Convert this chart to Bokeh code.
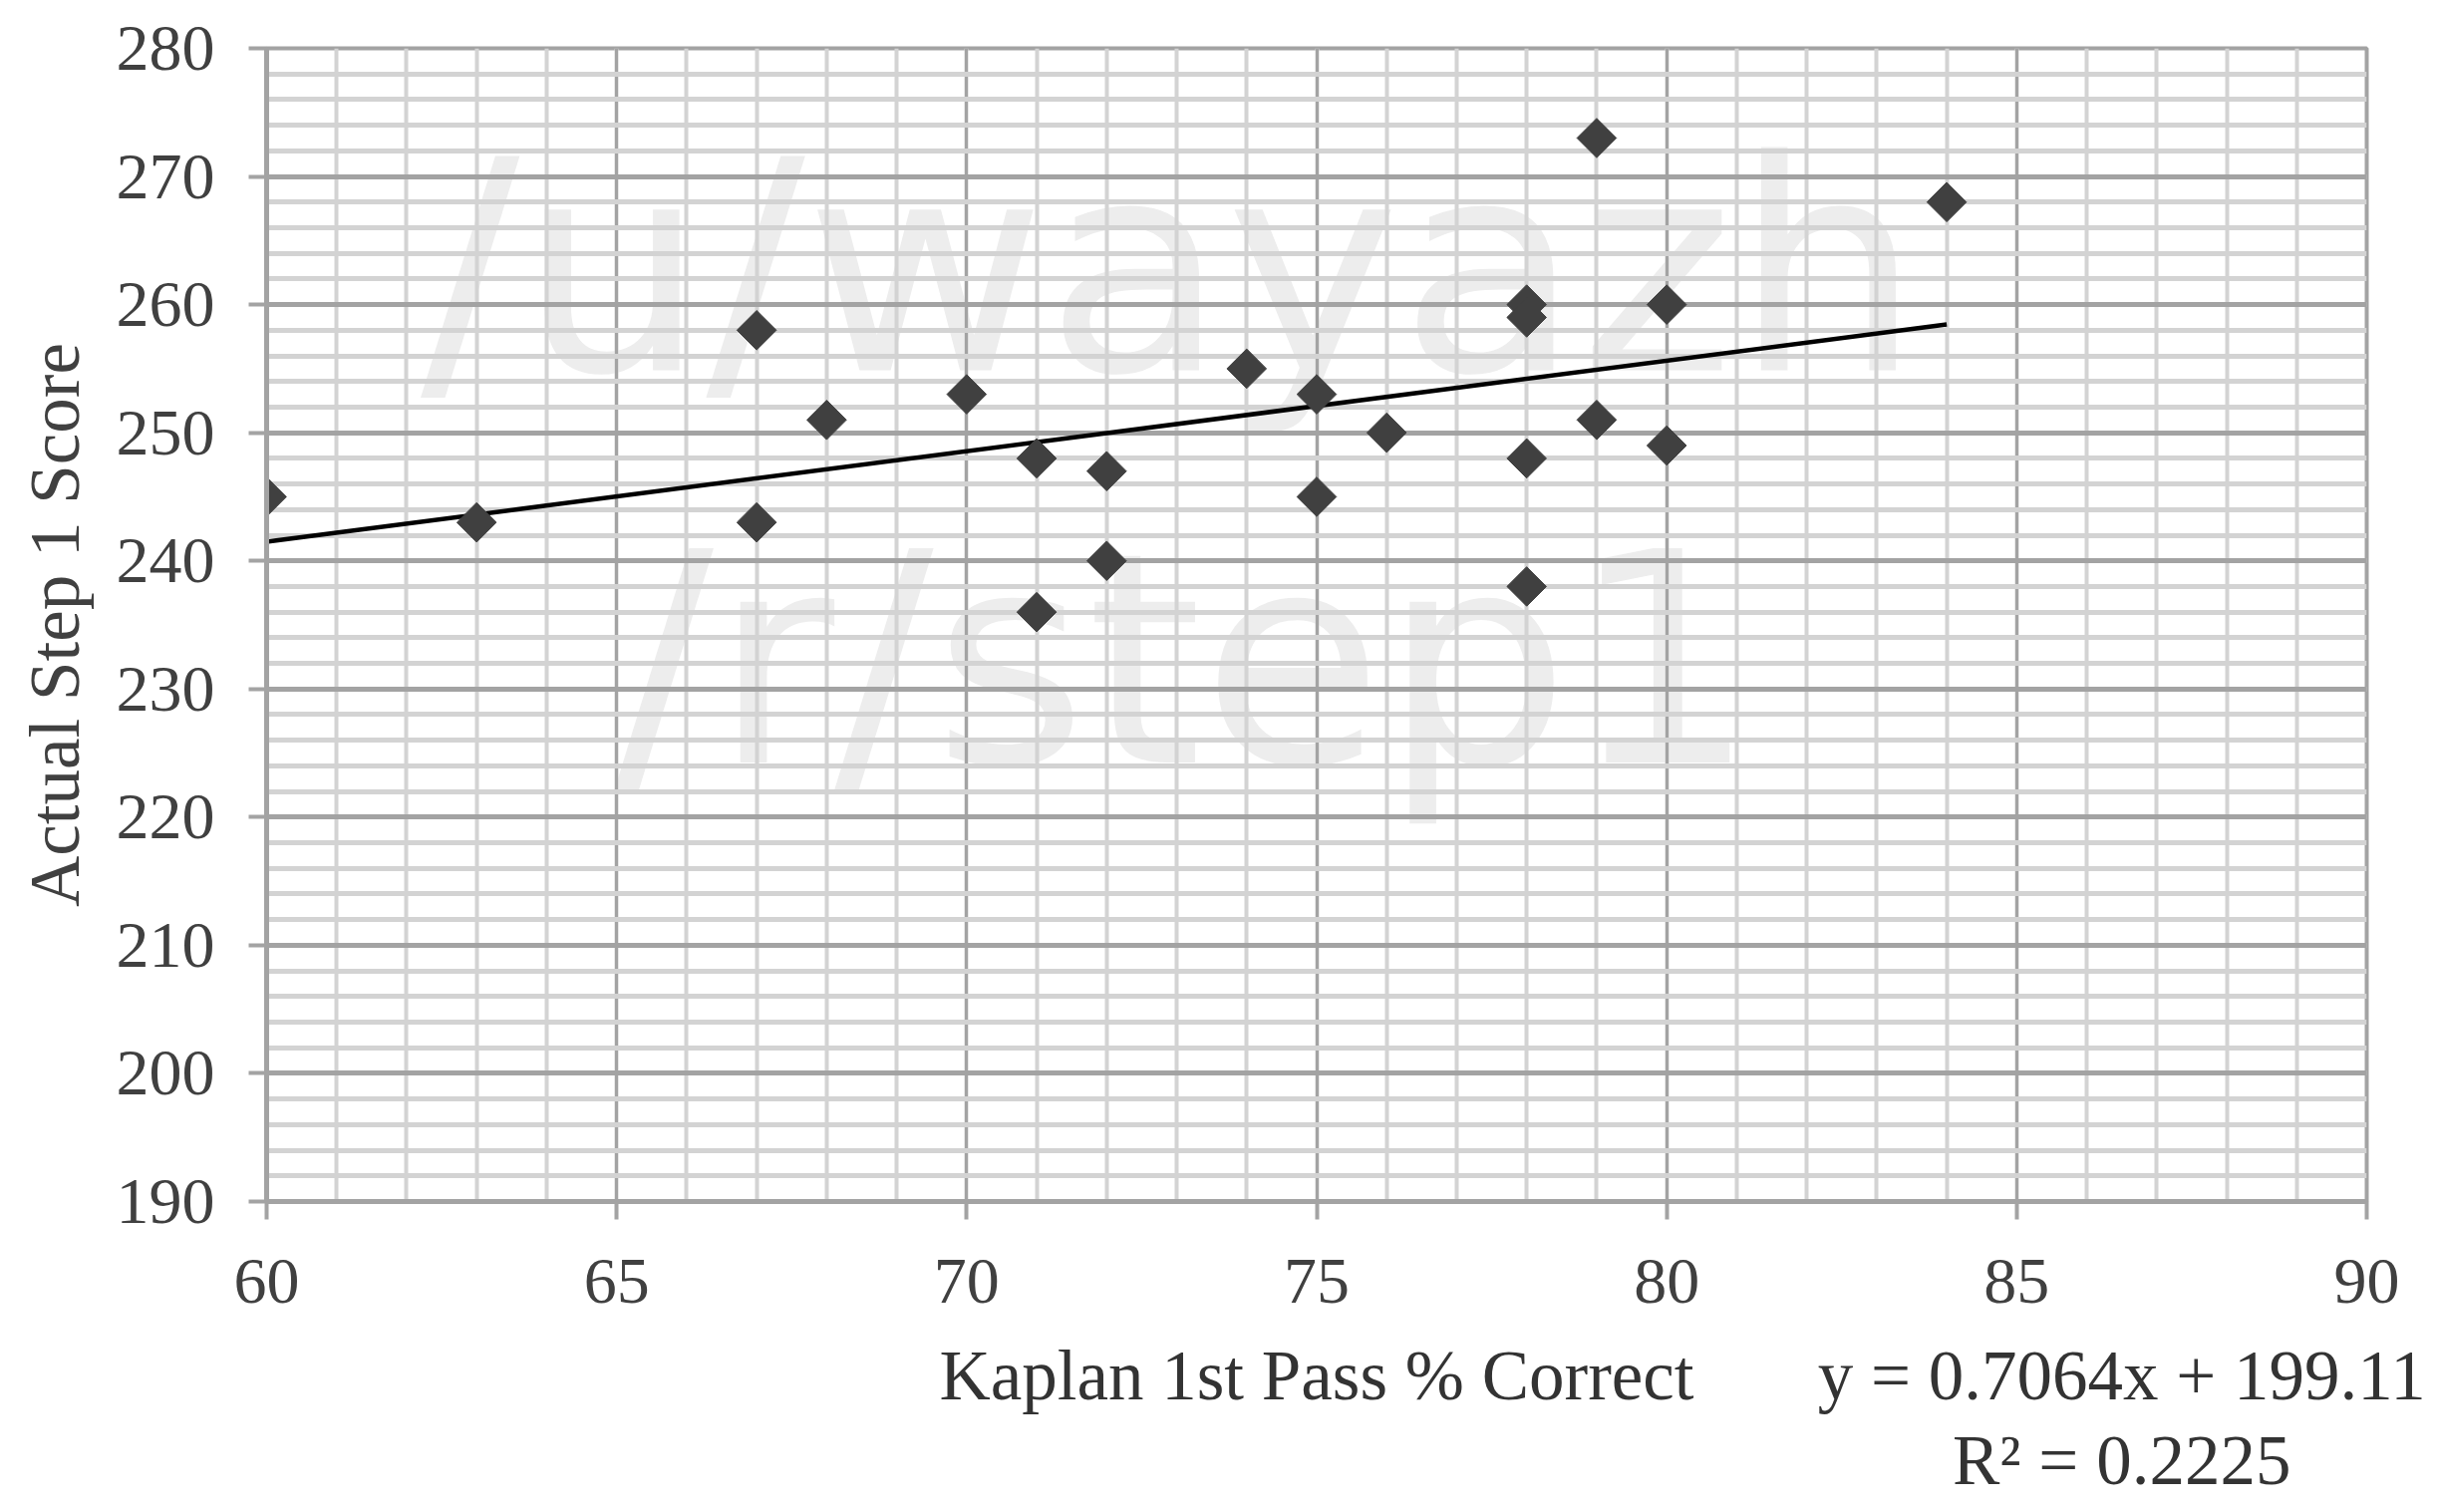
import numpy as np
from bokeh.plotting import figure
from bokeh.models import SingleIntervalTicker, FixedTicker, Label, Range1d, LinearAxis
from bokeh.embed import file_html
from bokeh.resources import INLINE

# ---- data ----
kaplan_pct = [60, 63, 67, 67, 68, 70, 71, 71, 72, 72, 74, 75, 75, 76, 78, 78, 78, 78, 79, 79, 80, 80, 84]
step1_score = [245, 243, 258, 243, 251, 253, 248, 236, 247, 240, 255, 253, 245, 250, 260, 259, 248, 238, 273, 251, 260, 249, 268]

slope = 0.7064
intercept = 199.11
r_squared = 0.2225
trend_x = [min(kaplan_pct), max(kaplan_pct)]

x_title = "Kaplan 1st Pass % Correct"
y_title = "Actual Step 1 Score"
equation_text = f"y = {slope}x + {intercept}"
r2_text = f"R² = {r_squared}"
watermark_lines = ["/u/wayazh", "/r/step1"]

TEXT = "#404040"
MAJOR = "#a3a3a3"
MINOR = "#d3d3d3"
SERIF = "Liberation Serif"

p = figure(width=2440, height=1512, output_backend="svg", toolbar_location=None,
           x_range=Range1d(60, 90), y_range=Range1d(190, 280),
           min_border_left=267, min_border_right=66, min_border_top=48, min_border_bottom=307)
p.background_fill_color = "white"
p.border_fill_color = "white"
p.outline_line_color = MAJOR
p.outline_line_width = 4

p.xaxis.ticker = SingleIntervalTicker(interval=5, num_minor_ticks=5)
p.yaxis.ticker = SingleIntervalTicker(interval=10, num_minor_ticks=5)

for ax in (p.xaxis, p.yaxis):
    ax.axis_line_color = MAJOR
    ax.axis_line_width = 5
    ax.major_tick_line_color = MAJOR
    ax.major_tick_line_width = 4
    ax.major_tick_out = 18
    ax.major_tick_in = 0
    ax.minor_tick_line_color = None
    ax.major_label_text_font = SERIF
    ax.major_label_text_font_size = "66px"
    ax.major_label_text_color = TEXT
    ax.axis_label_text_font = SERIF
    ax.axis_label_text_font_size = "71px"
    ax.axis_label_text_font_style = "normal"
    ax.axis_label_text_color = TEXT

p.yaxis.axis_label = y_title
p.xaxis.major_label_standoff = 40
p.yaxis.major_label_standoff = 34
p.yaxis.axis_label_standoff = 20

# second (text-only) axis below: x title, trendline equation and R²
x_center = (p.x_range.start + p.x_range.end) / 2
eq_pos = 86.5
text_axis = LinearAxis(ticker=FixedTicker(ticks=[x_center, eq_pos]),
                       major_label_overrides={x_center: x_title,
                                              eq_pos: equation_text + "\n" + r2_text})
text_axis.axis_line_color = None
text_axis.major_tick_line_color = None
text_axis.minor_tick_line_color = None
text_axis.major_tick_out = 0
text_axis.major_tick_in = 0
text_axis.major_label_standoff = 31
text_axis.major_label_text_font = SERIF
text_axis.major_label_text_font_size = "71px"
text_axis.major_label_text_line_height = 1.1
text_axis.major_label_text_color = "#333333"
p.add_layout(text_axis, "below")

p.xgrid.grid_line_color = MAJOR
p.xgrid.grid_line_width = 3
p.ygrid.grid_line_color = MAJOR
p.ygrid.grid_line_width = 5
p.xgrid.minor_grid_line_color = MINOR
p.xgrid.minor_grid_line_width = 4
p.ygrid.minor_grid_line_color = MINOR
p.ygrid.minor_grid_line_width = 5
p.xgrid.ticker = p.xaxis[0].ticker
p.ygrid.ticker = p.yaxis[0].ticker

# watermark (beneath the grid)
wm1 = Label(x=62.2, y=262.8, text=watermark_lines[0], text_font="DejaVu Sans",
            text_font_size="295px", text_color="#ededed", text_baseline="alphabetic",
            level="image")
wm2 = Label(x=64.97, y=232.2, text=watermark_lines[1], text_font="DejaVu Sans",
            text_font_size="295px", text_color="#ededed", text_baseline="alphabetic",
            level="image")
p.add_layout(wm1)
p.add_layout(wm2)

# trendline
trend_y = [slope * x + intercept for x in trend_x]
p.line(trend_x, trend_y, line_color="black", line_width=4.5)

# points
p.scatter(kaplan_pct, step1_score, marker="square", angle=np.pi / 4, size=28,
          fill_color="#404040", line_color="#404040")

open("out.html", "w").write(file_html(p, INLINE))
